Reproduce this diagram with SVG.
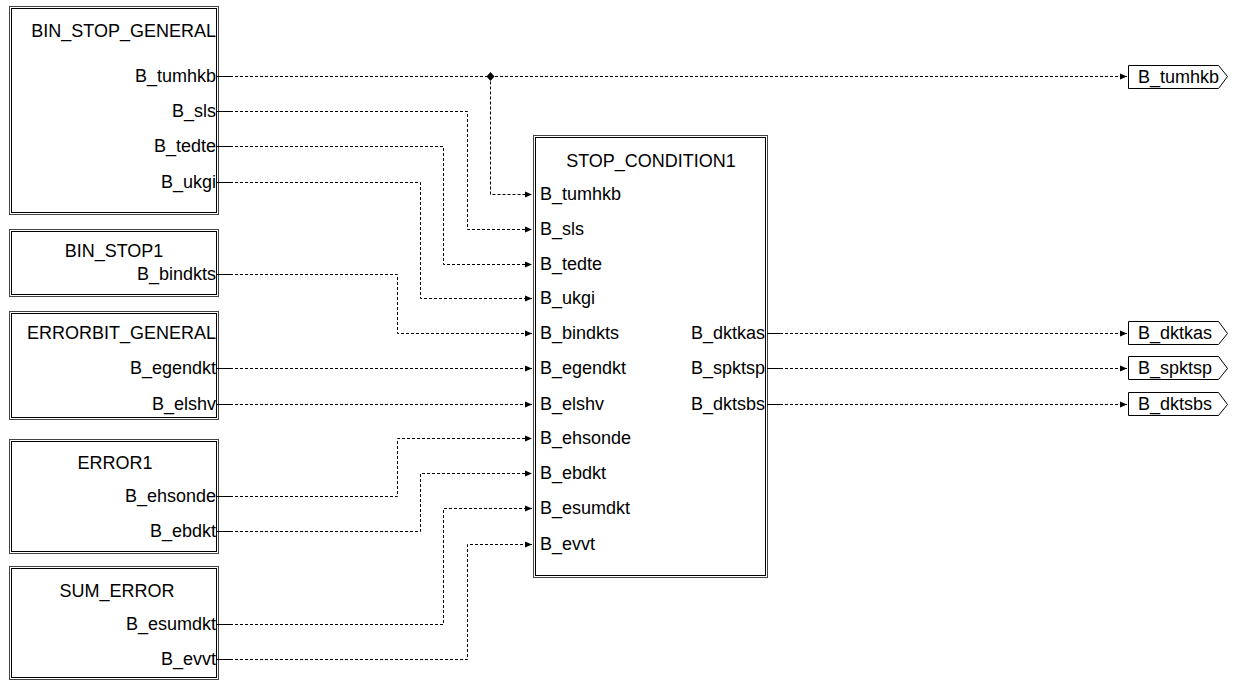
<svg xmlns="http://www.w3.org/2000/svg" width="1236" height="681" viewBox="0 0 1236 681">
<style>
.o{fill:#fff;stroke:#444;stroke-width:1}
.i{fill:none;stroke:#000;stroke-width:1}
text{font-family:"Liberation Sans",Arial,sans-serif;font-size:18px;fill:#000}
.e{text-anchor:end}
.m{text-anchor:middle}
.s{fill:none;stroke:#000;stroke-width:1}
.a{fill:none;stroke:#000;stroke-width:1;stroke-dasharray:3,2;marker-end:url(#ar)}
.ob{fill:#fff;stroke:#000;stroke-width:1}
</style>
<defs>
<marker id="ar" markerWidth="8" markerHeight="8" refX="7" refY="4" orient="auto" markerUnits="userSpaceOnUse">
<path d="M0,1 L7,4 L0,7 Z" fill="#000"/>
</marker>
</defs>
<rect width="1236" height="681" fill="#fff"/>

<g id="BIN_STOP_GENERAL">
<rect class="o" x="9.5" y="6.5" width="209" height="208"/>
<rect class="i" x="11.5" y="8.5" width="205" height="204"/>
<text x="216" y="37" class="e">BIN_STOP_GENERAL</text>
<text x="216" y="82" class="e">B_tumhkb</text>
<text x="216" y="117" class="e">B_sls</text>
<text x="216" y="152" class="e">B_tedte</text>
<text x="216" y="188" class="e">B_ukgi</text>
</g>

<g id="BIN_STOP1">
<rect class="o" x="9.5" y="229.5" width="209" height="67"/>
<rect class="i" x="11.5" y="231.5" width="205" height="63"/>
<text x="114" y="257" class="m">BIN_STOP1</text>
<text x="216" y="280" class="e">B_bindkts</text>
</g>

<g id="ERRORBIT_GENERAL">
<rect class="o" x="9.5" y="311.5" width="209" height="108"/>
<rect class="i" x="11.5" y="313.5" width="205" height="104"/>
<text x="216" y="339" class="e">ERRORBIT_GENERAL</text>
<text x="216" y="374" class="e">B_egendkt</text>
<text x="216" y="410" class="e">B_elshv</text>
</g>

<g id="ERROR1">
<rect class="o" x="9.5" y="439.5" width="209" height="114"/>
<rect class="i" x="11.5" y="441.5" width="205" height="110"/>
<text x="115" y="469" class="m">ERROR1</text>
<text x="216" y="502" class="e">B_ehsonde</text>
<text x="216" y="537" class="e">B_ebdkt</text>
</g>

<g id="SUM_ERROR">
<rect class="o" x="9.5" y="566.5" width="209" height="113"/>
<rect class="i" x="11.5" y="568.5" width="205" height="109"/>
<text x="117" y="597" class="m">SUM_ERROR</text>
<text x="216" y="630" class="e">B_esumdkt</text>
<text x="216" y="665" class="e">B_evvt</text>
</g>

<g id="STOP_CONDITION1">
<rect class="o" x="533.5" y="135.5" width="234" height="442"/>
<rect class="i" x="535.5" y="137.5" width="230" height="438"/>
<text x="651" y="167" class="m">STOP_CONDITION1</text>
<text x="540" y="200">B_tumhkb</text>
<text x="540" y="235">B_sls</text>
<text x="540" y="270">B_tedte</text>
<text x="540" y="304">B_ukgi</text>
<text x="540" y="339">B_bindkts</text>
<text x="540" y="374">B_egendkt</text>
<text x="540" y="410">B_elshv</text>
<text x="540" y="444">B_ehsonde</text>
<text x="540" y="479">B_ebdkt</text>
<text x="540" y="514">B_esumdkt</text>
<text x="540" y="550">B_evvt</text>
<text x="765" y="339" class="e">B_dktkas</text>
<text x="765" y="374" class="e">B_spktsp</text>
<text x="765" y="410" class="e">B_dktsbs</text>
</g>

<g id="out_B_tumhkb">
<path class="ob" d="M1128.5,65.5 H1218.5 L1227.5,76.5 L1218.5,88.5 H1128.5 Z"/>
<text x="1138" y="83">B_tumhkb</text>
</g>
<g id="out_B_dktkas">
<path class="ob" d="M1128.5,321.5 H1218.5 L1227.5,333.5 L1218.5,344.5 H1128.5 Z"/>
<text x="1138" y="339">B_dktkas</text>
</g>
<g id="out_B_spktsp">
<path class="ob" d="M1128.5,356.5 H1218.5 L1227.5,368.5 L1218.5,379.5 H1128.5 Z"/>
<text x="1138" y="374">B_spktsp</text>
</g>
<g id="out_B_dktsbs">
<path class="ob" d="M1128.5,392.5 H1218.5 L1227.5,404.5 L1218.5,415.5 H1128.5 Z"/>
<text x="1138" y="410">B_dktsbs</text>
</g>

<g id="connectors">
<path class="s" d="M217,76.5 H230 M217,111.5 H230 M217,146.5 H230 M217,182.5 H230 M217,274.5 H230 M217,368.5 H230 M217,404.5 H230 M217,496.5 H230 M217,531.5 H230 M217,624.5 H230 M217,659.5 H230 M767,333.5 H780 M767,368.5 H780 M767,404.5 H780"/>
<path class="a" d="M230,76.5 H1127"/>
<path class="a" d="M490.5,76.5 V194.5 H532"/>
<path d="M490.5,72 L494.5,76.5 L490.5,81 L486.5,76.5 Z" fill="#000"/>
<path class="a" d="M230,111.5 H467.5 V229.5 H532"/>
<path class="a" d="M230,146.5 H443.5 V264.5 H532"/>
<path class="a" d="M230,182.5 H420.5 V298.5 H532"/>
<path class="a" d="M230,274.5 H397.5 V333.5 H532"/>
<path class="a" d="M230,368.5 H532"/>
<path class="a" d="M230,404.5 H532"/>
<path class="a" d="M230,496.5 H397.5 V438.5 H532"/>
<path class="a" d="M230,531.5 H420.5 V473.5 H532"/>
<path class="a" d="M230,624.5 H443.5 V508.5 H532"/>
<path class="a" d="M230,659.5 H467.5 V544.5 H532"/>
<path class="a" d="M780,333.5 H1127"/>
<path class="a" d="M780,368.5 H1127"/>
<path class="a" d="M780,404.5 H1127"/>
</g>
</svg>
